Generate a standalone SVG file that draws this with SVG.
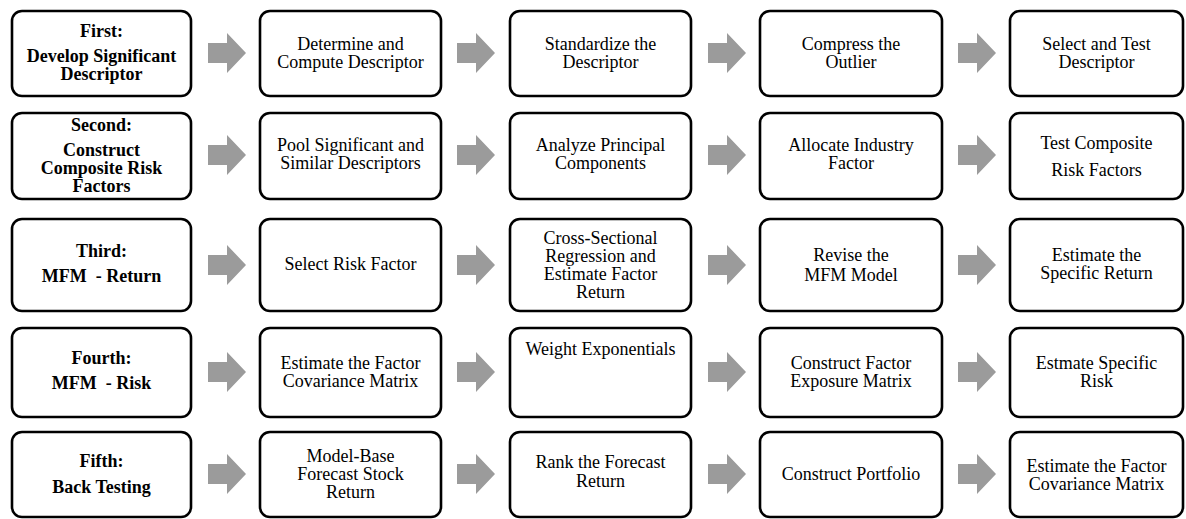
<svg xmlns="http://www.w3.org/2000/svg" width="1186" height="519" viewBox="0 0 1186 519">
<style>
.box{fill:#fff;stroke:#000;stroke-width:2.6}
.t{font-family:"Liberation Serif","Times New Roman",serif;font-size:18px;fill:#000;text-anchor:middle}
.b{font-weight:bold}
.pre{white-space:pre}
.arr{fill:#9b9b9b}
</style>
<defs>
<path id="ar" d="M0,-10 H19 V-20 L38,0 L19,20 V10 H0 Z"/>
</defs>
<rect width="1186" height="519" fill="#fff"/>
<g id="connectors" class="arr">
<use href="#ar" x="208" y="53"/><use href="#ar" x="457" y="53"/><use href="#ar" x="708" y="53"/><use href="#ar" x="958" y="53"/>
<use href="#ar" x="208" y="155"/><use href="#ar" x="457" y="155"/><use href="#ar" x="708" y="155"/><use href="#ar" x="958" y="155"/>
<use href="#ar" x="208" y="265"/><use href="#ar" x="457" y="265"/><use href="#ar" x="708" y="265"/><use href="#ar" x="958" y="265"/>
<use href="#ar" x="208" y="372"/><use href="#ar" x="457" y="372"/><use href="#ar" x="708" y="372"/><use href="#ar" x="958" y="372"/>
<use href="#ar" x="208" y="474"/><use href="#ar" x="457" y="474"/><use href="#ar" x="708" y="474"/><use href="#ar" x="958" y="474"/>
</g>
<!-- Row 1 -->
<g id="r1c1"><rect class="box" x="12" y="11" width="179" height="85" rx="10"/>
<text class="t b" x="101.5" y="37">First:</text><text class="t b" x="101.5" y="62">Develop Significant</text><text class="t b" x="101.5" y="80">Descriptor</text></g>
<g id="r1c2"><rect class="box" x="260" y="11" width="181" height="85" rx="10"/>
<text class="t" x="350.5" y="50">Determine and</text><text class="t" x="350.5" y="68">Compute Descriptor</text></g>
<g id="r1c3"><rect class="box" x="510" y="11" width="181" height="85" rx="10"/>
<text class="t" x="600.5" y="50">Standardize the</text><text class="t" x="600.5" y="68">Descriptor</text></g>
<g id="r1c4"><rect class="box" x="760" y="11" width="182" height="85" rx="10"/>
<text class="t" x="851" y="50">Compress the</text><text class="t" x="851" y="68">Outlier</text></g>
<g id="r1c5"><rect class="box" x="1010" y="11" width="173" height="85" rx="10"/>
<text class="t" x="1096.5" y="50">Select and Test</text><text class="t" x="1096.5" y="68">Descriptor</text></g>
<!-- Row 2 -->
<g id="r2c1"><rect class="box" x="12" y="113" width="179" height="86" rx="10"/>
<text class="t b" x="101.5" y="131">Second:</text><text class="t b" x="101.5" y="156">Construct</text><text class="t b" x="101.5" y="174">Composite Risk</text><text class="t b" x="101.5" y="192">Factors</text></g>
<g id="r2c2"><rect class="box" x="260" y="113" width="181" height="86" rx="10"/>
<text class="t" x="350.5" y="151">Pool Significant and</text><text class="t" x="350.5" y="169">Similar Descriptors</text></g>
<g id="r2c3"><rect class="box" x="510" y="113" width="181" height="86" rx="10"/>
<text class="t" x="600.5" y="151">Analyze Principal</text><text class="t" x="600.5" y="169">Components</text></g>
<g id="r2c4"><rect class="box" x="760" y="113" width="182" height="86" rx="10"/>
<text class="t" x="851" y="151">Allocate Industry</text><text class="t" x="851" y="169">Factor</text></g>
<g id="r2c5"><rect class="box" x="1010" y="113" width="173" height="86" rx="10"/>
<text class="t" x="1096.5" y="149">Test Composite</text><text class="t" x="1096.5" y="176">Risk Factors</text></g>
<!-- Row 3 -->
<g id="r3c1"><rect class="box" x="12" y="219" width="179" height="92" rx="10"/>
<text class="t b" x="101.5" y="257">Third:</text><text class="t b pre" x="101.5" y="282">MFM  - Return</text></g>
<g id="r3c2"><rect class="box" x="260" y="219" width="181" height="92" rx="10"/>
<text class="t" x="350.5" y="270">Select Risk Factor</text></g>
<g id="r3c3"><rect class="box" x="510" y="219" width="181" height="92" rx="10"/>
<text class="t" x="600.5" y="244">Cross-Sectional</text><text class="t" x="600.5" y="262">Regression and</text><text class="t" x="600.5" y="280">Estimate Factor</text><text class="t" x="600.5" y="298">Return</text></g>
<g id="r3c4"><rect class="box" x="760" y="219" width="182" height="92" rx="10"/>
<text class="t" x="851" y="261">Revise the</text><text class="t" x="851" y="281">MFM Model</text></g>
<g id="r3c5"><rect class="box" x="1010" y="219" width="173" height="92" rx="10"/>
<text class="t" x="1096.5" y="261">Estimate the</text><text class="t" x="1096.5" y="279">Specific Return</text></g>
<!-- Row 4 -->
<g id="r4c1"><rect class="box" x="12" y="328" width="179" height="89" rx="10"/>
<text class="t b" x="101.5" y="364">Fourth:</text><text class="t b pre" x="101.5" y="389">MFM  - Risk</text></g>
<g id="r4c2"><rect class="box" x="260" y="328" width="181" height="89" rx="10"/>
<text class="t" x="350.5" y="369">Estimate the Factor</text><text class="t" x="350.5" y="387">Covariance Matrix</text></g>
<g id="r4c3"><rect class="box" x="510" y="328" width="181" height="89" rx="10"/>
<text class="t" x="600.5" y="355">Weight Exponentials</text></g>
<g id="r4c4"><rect class="box" x="760" y="328" width="182" height="89" rx="10"/>
<text class="t" x="851" y="369">Construct Factor</text><text class="t" x="851" y="387">Exposure Matrix</text></g>
<g id="r4c5"><rect class="box" x="1010" y="328" width="173" height="89" rx="10"/>
<text class="t" x="1096.5" y="369">Estmate Specific</text><text class="t" x="1096.5" y="387">Risk</text></g>
<!-- Row 5 -->
<g id="r5c1"><rect class="box" x="12" y="432" width="179" height="85" rx="10"/>
<text class="t b" x="101.5" y="467">Fifth:</text><text class="t b" x="101.5" y="493">Back Testing</text></g>
<g id="r5c2"><rect class="box" x="260" y="432" width="181" height="85" rx="10"/>
<text class="t" x="350.5" y="462">Model-Base</text><text class="t" x="350.5" y="480">Forecast Stock</text><text class="t" x="350.5" y="498">Return</text></g>
<g id="r5c3"><rect class="box" x="510" y="432" width="181" height="85" rx="10"/>
<text class="t" x="600.5" y="468">Rank the Forecast</text><text class="t" x="600.5" y="487">Return</text></g>
<g id="r5c4"><rect class="box" x="760" y="432" width="182" height="85" rx="10"/>
<text class="t" x="851" y="480">Construct Portfolio</text></g>
<g id="r5c5"><rect class="box" x="1010" y="432" width="173" height="85" rx="10"/>
<text class="t" x="1096.5" y="472">Estimate the Factor</text><text class="t" x="1096.5" y="490">Covariance Matrix</text></g>
</svg>
